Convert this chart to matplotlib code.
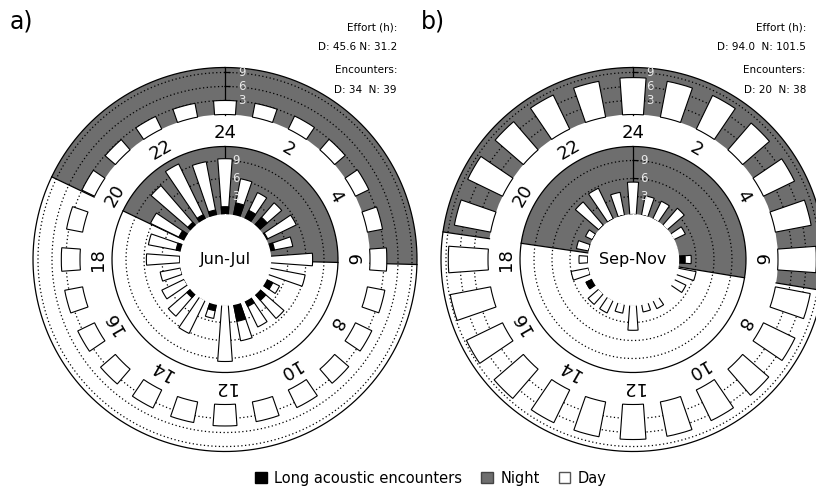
import numpy as np
import matplotlib.pyplot as plt
from matplotlib.patches import Patch

hours = np.arange(24)
hour_labels = ['24', '2', '4', '6', '8', '10', '12', '14', '16', '18', '20', '22']

# a) Jun-Jul
effort_a = [3.0, 3.0, 3.1, 3.0, 3.2, 3.3, 3.6, 3.8, 3.9, 4.0, 4.2, 4.3,
            4.6, 4.5, 4.3, 4.2, 4.0, 3.9, 4.0, 3.5, 3.0, 2.9, 3.0, 3.0]
enc_a = [9.3, 6.2, 4.9, 5.0, 5.7, 4.0, 7.1, 6.1, 2.6, 5.5, 5.0, 6.3,
         9.5, 2.5, 6.2, 5.0, 4.2, 3.5, 5.6, 5.5, 6.3, 8.8, 10.2, 9.1]
long_a = [1.3, 2.1, 1.6, 1.8, 0.4, 0.9, 0.0, 0.0, 1.35, 1.5, 1.2, 3.0,
          0.0, 1.2, 0.0, 0.9, 0.0, 0.0, 0.0, 0.8, 1.05, 0.7, 0.8, 0.9]
night_a = (19.7, 6.1)
text_a = ['Effort (h):', 'D: 45.6 N: 31.2', 'Encounters:', 'D: 34  N: 39']

# b) Sep-Nov
effort_b = [7.9, 7.8, 8.0, 7.6, 7.4, 7.8, 8.2, 7.6, 7.5, 7.4, 7.3, 7.5,
            7.5, 7.6, 7.8, 8.3, 8.6, 8.8, 8.5, 7.9, 8.3, 8.0, 8.1, 7.8]
enc_b = [5.4, 3.3, 3.3, 3.8, 2.2, 0.0, 2.2, 3.2, 2.3, 0.0, 1.6, 1.4,
         4.3, 1.6, 2.4, 2.4, 1.2, 3.0, 1.5, 2.1, 1.3, 5.2, 5.7, 3.9]
long_b = [0, 0, 0, 0, 0, 0, 1.2, 0, 0, 0, 0, 0,
          0, 0, 0, 0, 1.2, 0, 0, 0, 0, 0, 0, 0]
night_b = (18.55, 6.62)
text_b = ['Effort (h):', 'D: 94.0  N: 101.5', 'Encounters:', 'D: 20  N: 38']

GRAY = '#6e6e6e'
R0, IN_K, IN_EDGE = 45, 6.0, 113
LAB_R = 127
OUT_B, OUT_K, OUT_EDGE = 145, 4.67, 192
RMAX = 194
W = 0.55 * 2 * np.pi / 24


def rad(h):
    return np.asarray(h, dtype=float) * 2 * np.pi / 24


def ring_bg(ax, r_in, r_out, night):
    s, r = night
    span_n = 24 - s + r
    span_d = 24 - span_n
    ax.bar(rad(s + span_n / 2), r_out - r_in, width=rad(span_n), bottom=r_in,
           color=GRAY, lw=0, zorder=1)
    ax.bar(rad(r + span_d / 2), r_out - r_in, width=rad(span_d), bottom=r_in,
           color='white', lw=0, zorder=1)
    for h in (s, r):
        ax.plot([rad(h), rad(h)], [r_in, r_out], color='black', lw=0.9, zorder=2)


def draw_panel(fig, cx, effort, enc, long_enc, night, season, letter, texts, tx):
    ax = fig.add_axes([(cx - RMAX) / 816, (487 - 259.5 - RMAX) / 487,
                       2 * RMAX / 816, 2 * RMAX / 487], projection='polar')
    ax.set_theta_zero_location('N')
    ax.set_theta_direction(-1)
    ax.set_ylim(0, RMAX)
    ax.axis('off')
    th = rad(hours)
    full = np.linspace(0, 2 * np.pi, 400)

    ring_bg(ax, R0, IN_EDGE, night)
    ring_bg(ax, OUT_B, OUT_EDGE, night)
    ax.plot(full, [IN_EDGE] * 400, color='black', lw=0.9, zorder=2)
    ax.plot(full, [OUT_EDGE] * 400, color='black', lw=0.9, zorder=2)

    for v in (3, 6, 9):
        ax.plot(full, [R0 + v * IN_K] * 400, color='black', lw=0.9,
                ls=(0, (1, 2)), zorder=2)
        ax.plot(full, [OUT_B + v * OUT_K] * 400, color='black', lw=0.9,
                ls=(0, (1, 2)), zorder=2)

    # radial axes
    ax.plot([0, 0], [R0, IN_EDGE], color='black', lw=0.9, zorder=2)
    ax.plot([0, 0], [OUT_B, OUT_EDGE], color='black', lw=0.9, zorder=2)
    for base, k, off in ((R0, IN_K, 11), (OUT_B, OUT_K, 17)):
        for v in (3, 6, 9):
            rr = base + v * k
            ax.plot([0, 5 / rr], [rr, rr], color='black', lw=0.9, zorder=2)
            ax.text(np.arctan2(off, rr), np.hypot(off, rr), str(v),
                    color='#e8e8e8', fontsize=8.5, ha='center', va='center',
                    zorder=6)

    # bars
    ax.bar(th, np.asarray(effort) * OUT_K, width=W, bottom=OUT_B,
           facecolor='white', edgecolor='black', lw=0.8, zorder=3)
    ax.bar(th, np.asarray(enc) * IN_K, width=W, bottom=R0,
           facecolor='white', edgecolor='black', lw=0.8, zorder=3)
    ax.bar(th, np.asarray(long_enc) * IN_K, width=W, bottom=R0,
           facecolor='black', edgecolor='black', lw=0.8, zorder=4)

    # centre disc
    ax.fill_between(full, 0, R0, color='white', zorder=5)
    ax.text(0, 0, season, ha='center', va='center', fontsize=11.5, zorder=6)

    for i, lab in enumerate(hour_labels):
        ax.text(rad(2 * i), LAB_R, lab, rotation=-30 * i, rotation_mode='anchor',
                ha='center', va='center', fontsize=13, zorder=6)

    fig.text(letter[1] / 816, 1 - 22 / 487, letter[0], fontsize=17,
             ha='left', va='center')
    for t, y in zip(texts, (27, 47, 70, 90)):
        fig.text(tx / 816, 1 - y / 487, t, fontsize=7.5, ha='right', va='center')


fig = plt.figure(figsize=(8.16, 4.87), dpi=100)
draw_panel(fig, 225, effort_a, enc_a, long_a, night_a, 'Jun-Jul', ('a)', 10),
           text_a, 397)
draw_panel(fig, 633, effort_b, enc_b, long_b, night_b, 'Sep-Nov', ('b)', 421),
           text_b, 806)

handles = [Patch(facecolor='black', edgecolor='black'),
           Patch(facecolor=GRAY, edgecolor='#444444'),
           Patch(facecolor='white', edgecolor='#555555')]
fig.legend(handles, ['Long acoustic encounters', 'Night', 'Day'], loc='center',
           bbox_to_anchor=(0.528, 1 - 478 / 487), ncol=3, frameon=False,
           fontsize=10.5, handlelength=0.8, handleheight=0.8,
           handletextpad=0.5, columnspacing=1.3)

fig.savefig('out.png', dpi=100)
